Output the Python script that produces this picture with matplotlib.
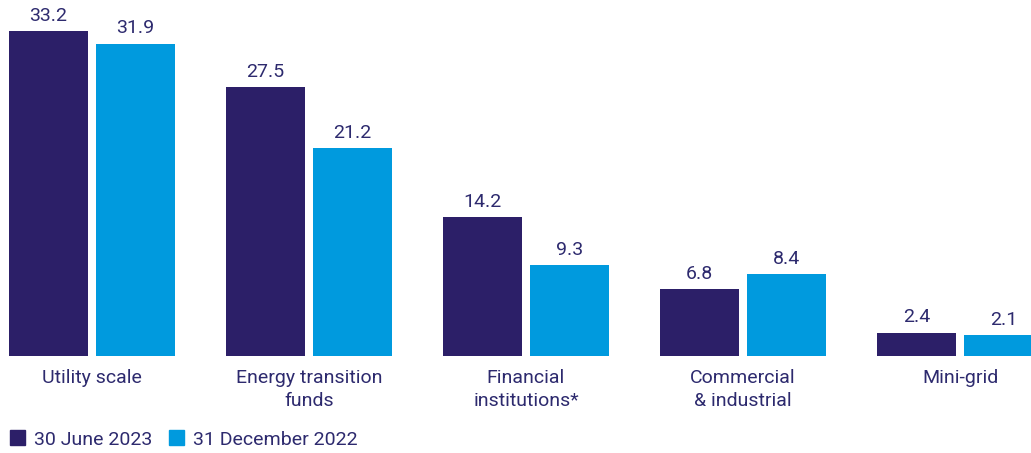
import matplotlib.pyplot as plt
from matplotlib.patches import Patch

# Chart data
categories = ['Utility scale', 'Energy transition\nfunds', 'Financial\ninstitutions*',
              'Commercial\n& industrial', 'Mini-grid']
june_2023 = [33.2, 27.5, 14.2, 6.8, 2.4]
dec_2022 = [31.9, 21.2, 9.3, 8.4, 2.1]
series_names = ['30 June 2023', '31 December 2022']

navy = '#2c1f68'
blue = '#009ade'
text_col = '#2d2a6e'

plt.rcParams['font.family'] = ['Roboto', 'DejaVu Sans']

fig = plt.figure(figsize=(10.31, 4.53), dpi=100)
ax = fig.add_axes([0, 97 / 453, 1, 356 / 453])

x = list(range(len(categories)))
off = 43.5 / 217
w = 79 / 217
b1 = ax.bar([i - off for i in x], june_2023, width=w, color=navy)
b2 = ax.bar([i + off for i in x], dec_2022, width=w, color=blue)

for bars in (b1, b2):
    for bar in bars:
        h = bar.get_height()
        ax.annotate(f'{h:.1f}', (bar.get_x() + bar.get_width() / 2, h),
                    xytext=(0, 4.5), textcoords='offset points',
                    ha='center', va='bottom', fontsize=14, color=text_col)

ax.set_xlim(-92 / 217, (1031 - 92) / 217)
ax.set_ylim(0, 356 / 9.79)
ax.set_xticks(x)
ax.set_xticklabels(categories, fontsize=14, color=text_col, va='top', linespacing=1.35)
ax.tick_params(axis='x', length=0, pad=9.5)
ax.set_yticks([])
for s in ax.spines.values():
    s.set_visible(False)

handles = [Patch(color=navy), Patch(color=blue)]
fig.legend(handles, series_names, loc='lower left', bbox_to_anchor=(-0.002, -0.016),
           ncol=2, frameon=False, fontsize=14, labelcolor=text_col,
           handlelength=0.8, handleheight=0.8, handletextpad=0.45,
           columnspacing=0.85, borderaxespad=0.2)

fig.savefig('out.png', dpi=100)
